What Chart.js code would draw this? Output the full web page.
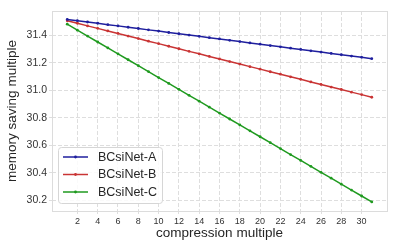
<!DOCTYPE html>
<html>
<head>
<meta charset="utf-8">
<script src="https://cdn.jsdelivr.net/npm/chart.js@4"></script>
<style>
  html, body { margin: 0; padding: 0; background: #fff; }
  #wrap { width: 399px; height: 249px; }
</style>
</head>
<body>
<div id="wrap"><canvas id="chart" width="399" height="249"></canvas></div>
<script>
const xValues = [1, 2, 3, 4, 5, 6, 7, 8, 9, 10, 11, 12, 13, 14, 15, 16,
  17, 18, 19, 20, 21, 22, 23, 24, 25, 26, 27, 28, 29, 30, 31];

const seriesA = [31.515, 31.506, 31.496, 31.487, 31.477, 31.468, 31.458, 31.449,
  31.439, 31.430, 31.420, 31.411, 31.401, 31.392, 31.382, 31.373, 31.363, 31.354,
  31.344, 31.335, 31.325, 31.316, 31.306, 31.297, 31.287, 31.278, 31.268, 31.259,
  31.249, 31.240, 31.230];
const seriesB = [31.505, 31.487, 31.468, 31.450, 31.431, 31.413, 31.394, 31.376,
  31.357, 31.339, 31.320, 31.302, 31.283, 31.265, 31.246, 31.228, 31.209, 31.191,
  31.172, 31.154, 31.135, 31.117, 31.098, 31.080, 31.061, 31.043, 31.024, 31.006,
  30.987, 30.969, 30.950];
const seriesC = [31.480, 31.437, 31.394, 31.351, 31.308, 31.265, 31.222, 31.179,
  31.136, 31.093, 31.050, 31.007, 30.964, 30.921, 30.878, 30.835, 30.792, 30.749,
  30.706, 30.663, 30.620, 30.577, 30.534, 30.491, 30.448, 30.405, 30.362, 30.319,
  30.276, 30.233, 30.190];

const seriesNames = ["BCsiNet-A", "BCsiNet-B", "BCsiNet-C"];
const xTicks = [2, 4, 6, 8, 10, 12, 14, 16, 18, 20, 22, 24, 26, 28, 30];
const yTicks = [30.2, 30.4, 30.6, 30.8, 31.0, 31.2, 31.4];

const colors = ["#1f1f9e", "#c93434", "#1f9a1f"];
const FONT = "'Liberation Sans', Arial, sans-serif";

function toPoints(ys) {
  return ys.map((y, i) => ({ x: xValues[i], y: y }));
}

const datasets = [seriesA, seriesB, seriesC].map((vals, i) => ({
  label: seriesNames[i],
  data: toPoints(vals),
  borderColor: colors[i],
  backgroundColor: colors[i],
  borderWidth: 1.5,
  pointRadius: 1.4,
  pointHoverRadius: 1.4,
  pointBorderWidth: 0,
  tension: 0
}));

// legend box drawn inside the plot, lower left (like matplotlib)
const innerLegend = {
  id: "innerLegend",
  afterDraw(chart) {
    const ctx = chart.ctx;
    const area = chart.chartArea;
    const x0 = area.left + 6, y0 = area.bottom - 64;
    const w = 104, h = 56, rowH = 17.5;
    ctx.save();
    ctx.fillStyle = "rgba(255,255,255,0.85)";
    ctx.strokeStyle = "#d6d6d6";
    ctx.lineWidth = 1;
    ctx.beginPath();
    ctx.roundRect(x0 + 0.5, y0 + 0.5, w, h, 3);
    ctx.fill();
    ctx.stroke();
    ctx.font = "12.5px " + FONT;
    ctx.textBaseline = "middle";
    chart.data.datasets.forEach((ds, i) => {
      const cy = y0 + 10 + i * rowH;
      ctx.strokeStyle = ds.borderColor;
      ctx.lineWidth = 1.5;
      ctx.beginPath();
      ctx.moveTo(x0 + 5, cy);
      ctx.lineTo(x0 + 30, cy);
      ctx.stroke();
      ctx.fillStyle = ds.borderColor;
      ctx.beginPath();
      ctx.arc(x0 + 17.5, cy, 1.4, 0, Math.PI * 2);
      ctx.fill();
      ctx.fillStyle = "#262626";
      ctx.fillText(ds.label, x0 + 40, cy + 0.5);
    });
    ctx.restore();
  }
};

// light frame around the plot area
const frame = {
  id: "frame",
  afterDatasetsDraw(chart) {
    const a = chart.chartArea, ctx = chart.ctx;
    ctx.save();
    ctx.strokeStyle = "#dcdcdc";
    ctx.lineWidth = 1;
    ctx.strokeRect(Math.round(a.left) + 0.5, Math.round(a.top) + 0.5,
      Math.round(a.right - a.left), Math.round(a.bottom - a.top));
    ctx.restore();
  }
};

new Chart(document.getElementById("chart"), {
  type: "line",
  data: { datasets: datasets },
  plugins: [innerLegend, frame],
  options: {
    responsive: false,
    animation: false,
    layout: { padding: { left: 0, right: 12, top: 11, bottom: 0 } },
    plugins: { legend: { display: false }, tooltip: { enabled: false } },
    scales: {
      x: {
        type: "linear",
        min: -0.5,
        max: 32.5,
        afterBuildTicks: (s) => { s.ticks = xTicks.map(v => ({ value: v })); },
        afterFit: (s) => { s.height = 38; },
        ticks: {
          font: { family: FONT, size: 9 },
          color: "#333",
          padding: 2,
          maxRotation: 0
        },
        grid: {
          color: "#dedede",
          tickLength: 3,
          drawTicks: true
        },
        border: { display: false, dash: [4, 2] },
        title: {
          display: true,
          text: "compression multiple",
          font: { family: FONT, size: 13.5 },
          color: "#262626",
          padding: { top: 0, bottom: 8 }
        }
      },
      y: {
        min: 30.124,
        max: 31.576,
        afterBuildTicks: (s) => { s.ticks = yTicks.map(v => ({ value: v })); },
        afterFit: (s) => { s.width = 52; },
        ticks: {
          font: { family: FONT, size: 10.5 },
          color: "#333",
          padding: 2,
          callback: (v) => v.toFixed(1)
        },
        grid: {
          color: "#dedede",
          tickLength: 3,
          drawTicks: true
        },
        border: { display: false, dash: [4, 2] },
        title: {
          display: true,
          text: "memory saving multiple",
          font: { family: FONT, size: 13.5 },
          color: "#262626",
          padding: { top: 4, bottom: 0 }
        }
      }
    }
  }
});
</script>
</body>
</html>
